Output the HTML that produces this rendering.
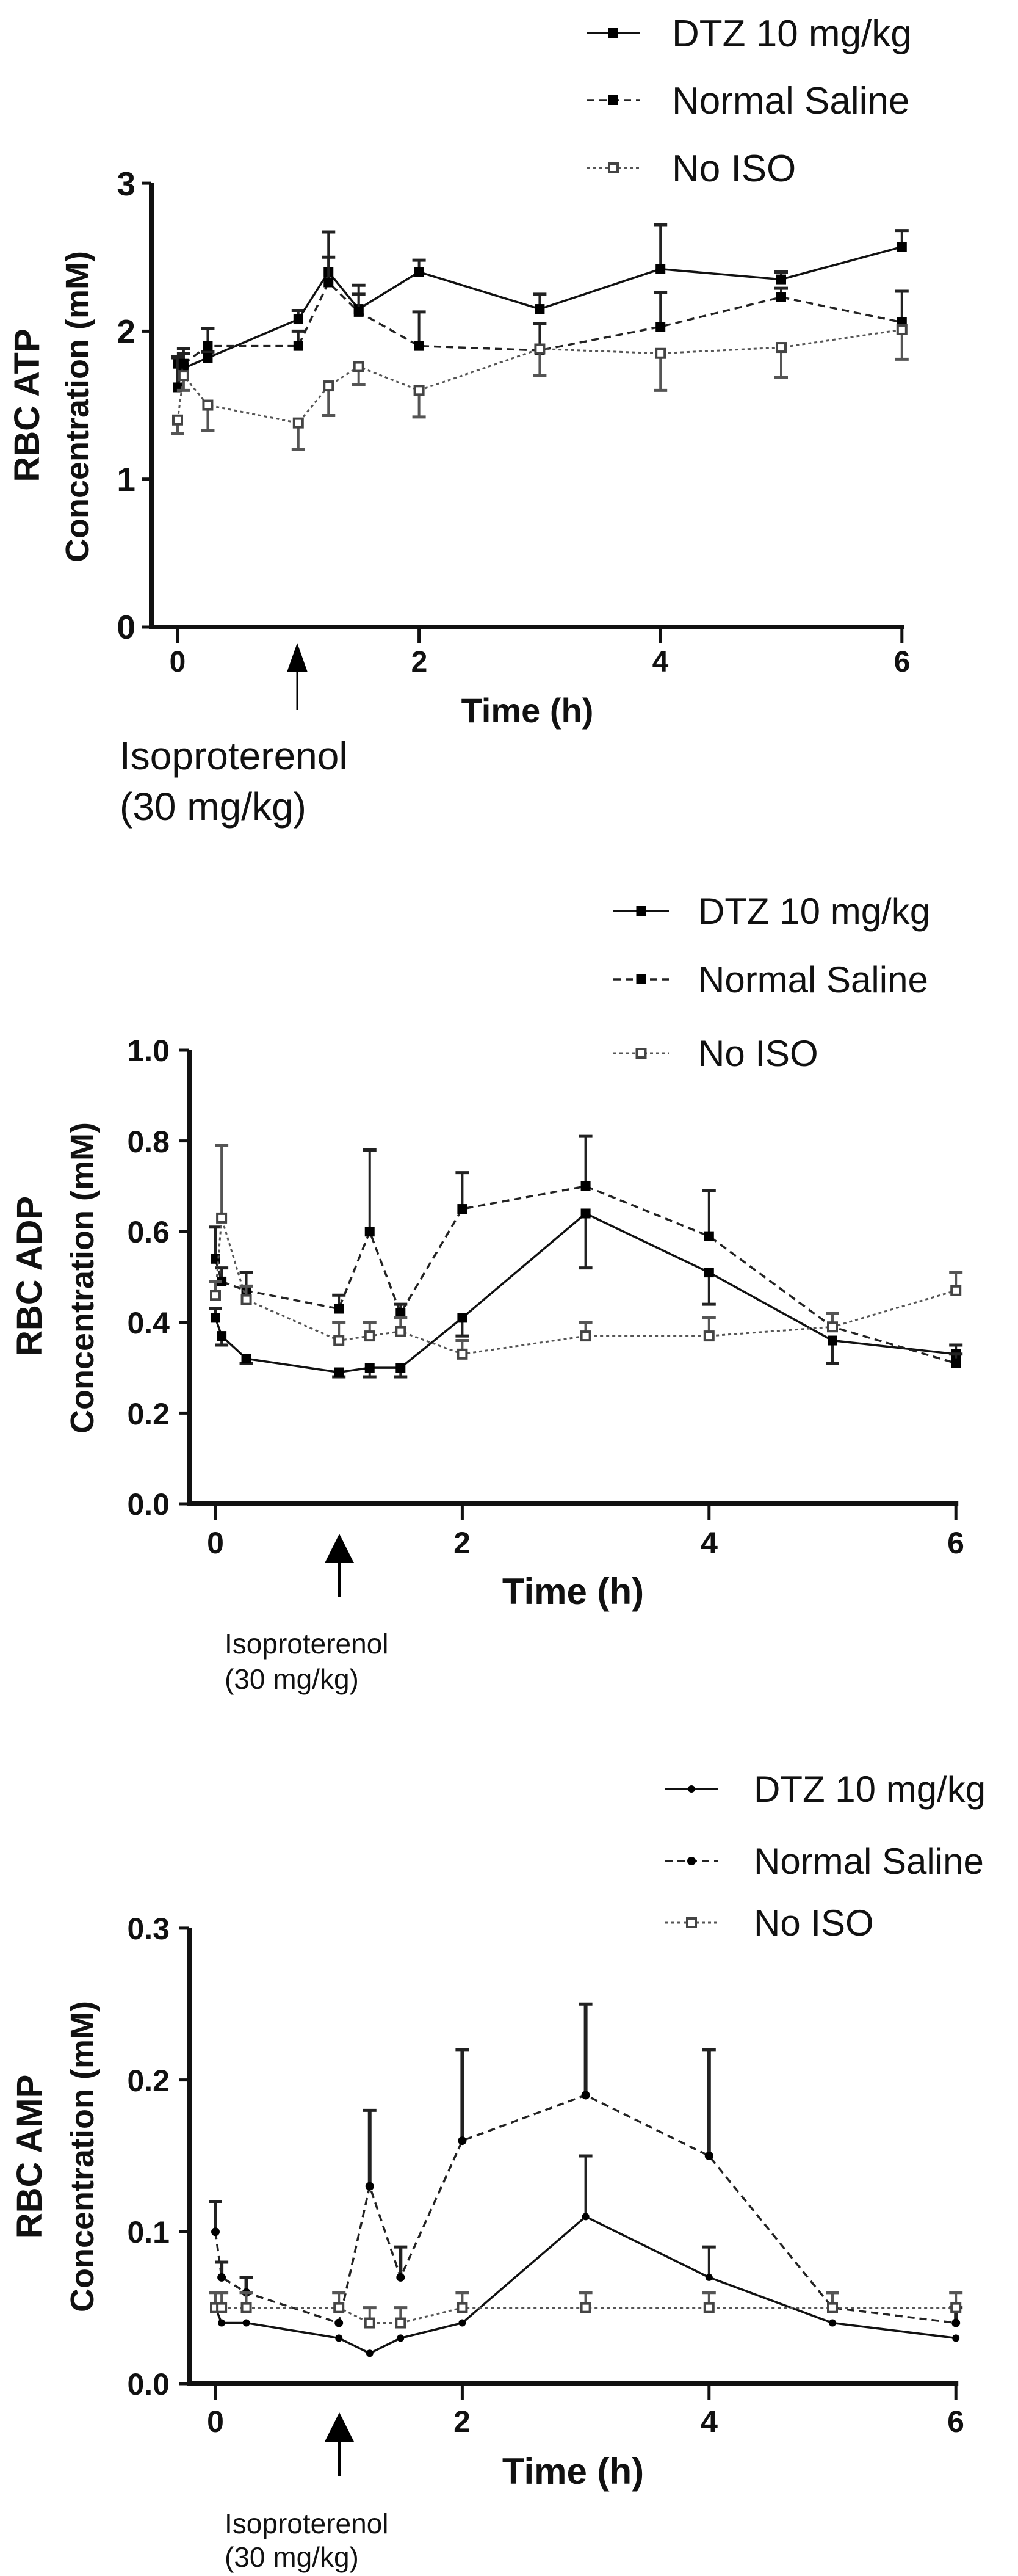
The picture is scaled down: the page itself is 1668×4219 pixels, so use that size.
<!DOCTYPE html>
<html><head><meta charset="utf-8"><style>
html,body{margin:0;padding:0;background:#fff;}
svg{display:block;}
text{font-family:"Liberation Sans",Arial,sans-serif;fill:#111;}
.b{font-weight:bold;}
</style></head><body>
<svg id="s" width="1668" height="4219" viewBox="0 0 1668 4219" xmlns="http://www.w3.org/2000/svg">
<rect width="1668" height="4219" fill="#fff"/>
<!-- Chart 1 static text -->
<text x="1101" y="76" font-size="62">DTZ 10 mg/kg</text>
<text x="1101" y="186" font-size="62">Normal Saline</text>
<text x="1101" y="297" font-size="62">No ISO</text>
<text class="b" font-size="58" text-anchor="middle" transform="translate(64,664) rotate(-90)">RBC ATP</text>
<text class="b" font-size="54" text-anchor="middle" transform="translate(145,666) rotate(-90)">Concentration (mM)</text>
<text class="b" font-size="55" x="222" y="320" text-anchor="end">3</text>
<text class="b" font-size="55" x="222" y="562" text-anchor="end">2</text>
<text class="b" font-size="55" x="222" y="804" text-anchor="end">1</text>
<text class="b" font-size="55" x="222" y="1046" text-anchor="end">0</text>
<text class="b" font-size="48" x="291" y="1100" text-anchor="middle">0</text>
<text class="b" font-size="48" x="687" y="1100" text-anchor="middle">2</text>
<text class="b" font-size="48" x="1082" y="1100" text-anchor="middle">4</text>
<text class="b" font-size="48" x="1478" y="1100" text-anchor="middle">6</text>
<text class="b" font-size="56" x="864" y="1183" text-anchor="middle">Time (h)</text>
<text font-size="64" x="196" y="1260">Isoproterenol</text>
<text font-size="64" x="196" y="1343">(30 mg/kg)</text>
<!-- Chart 2 static text -->
<text x="1144" y="1513" font-size="60">DTZ 10 mg/kg</text>
<text x="1144" y="1625" font-size="60">Normal Saline</text>
<text x="1144" y="1746" font-size="60">No ISO</text>
<text class="b" font-size="58" text-anchor="middle" transform="translate(68,2090) rotate(-90)">RBC ADP</text>
<text class="b" font-size="54" text-anchor="middle" transform="translate(153,2093) rotate(-90)">Concentration (mM)</text>
<text class="b" font-size="50" x="278" y="1738" text-anchor="end">1.0</text>
<text class="b" font-size="50" x="278" y="1887" text-anchor="end">0.8</text>
<text class="b" font-size="50" x="278" y="2035" text-anchor="end">0.6</text>
<text class="b" font-size="50" x="278" y="2184" text-anchor="end">0.4</text>
<text class="b" font-size="50" x="278" y="2333" text-anchor="end">0.2</text>
<text class="b" font-size="50" x="278" y="2481" text-anchor="end">0.0</text>
<text class="b" font-size="50" x="353" y="2544" text-anchor="middle">0</text>
<text class="b" font-size="50" x="757" y="2544" text-anchor="middle">2</text>
<text class="b" font-size="50" x="1162" y="2544" text-anchor="middle">4</text>
<text class="b" font-size="50" x="1566" y="2544" text-anchor="middle">6</text>
<text class="b" font-size="60" x="939" y="2627" text-anchor="middle">Time (h)</text>
<text font-size="46" x="368" y="2708" fill="#333">Isoproterenol</text>
<text font-size="46" x="368" y="2766" fill="#333">(30 mg/kg)</text>
<!-- Chart 3 static text -->
<text x="1235" y="2951" font-size="60">DTZ 10 mg/kg</text>
<text x="1235" y="3069" font-size="60">Normal Saline</text>
<text x="1235" y="3170" font-size="60">No ISO</text>
<text class="b" font-size="58" text-anchor="middle" transform="translate(68,3532) rotate(-90)">RBC AMP</text>
<text class="b" font-size="54" text-anchor="middle" transform="translate(153,3532) rotate(-90)">Concentration (mM)</text>
<text class="b" font-size="50" x="278" y="3176" text-anchor="end">0.3</text>
<text class="b" font-size="50" x="278" y="3425" text-anchor="end">0.2</text>
<text class="b" font-size="50" x="278" y="3673" text-anchor="end">0.1</text>
<text class="b" font-size="50" x="278" y="3922" text-anchor="end">0.0</text>
<text class="b" font-size="50" x="353" y="3983" text-anchor="middle">0</text>
<text class="b" font-size="50" x="757" y="3983" text-anchor="middle">2</text>
<text class="b" font-size="50" x="1162" y="3983" text-anchor="middle">4</text>
<text class="b" font-size="50" x="1566" y="3983" text-anchor="middle">6</text>
<text class="b" font-size="60" x="939" y="4068" text-anchor="middle">Time (h)</text>
<text font-size="46" x="368" y="4149" fill="#333">Isoproterenol</text>
<text font-size="46" x="368" y="4204" fill="#333">(30 mg/kg)</text>
<g id="g"></g>
</svg>
<script>
var NS="http://www.w3.org/2000/svg",G=document.getElementById('g');
function el(n,a){var e=document.createElementNS(NS,n);for(var k in a)e.setAttribute(k,a[k]);G.appendChild(e);return e;}
var T=[0,0.05,0.25,1,1.25,1.5,2,3,4,5,6];
var charts=[
{ax:248,x0:291,xs:197.8,y0:1027,ys:242.3,ymax:3,ticks:[0,1,2,3],top:300,arrow:[487,1053,1163,3],
 leg:{x1:962,x2:1048,ys:[54,164,275]},nsMarker:'sq',
 s:[
 {v:[1.78,1.75,1.82,2.08,2.4,2.15,2.4,2.15,2.42,2.35,2.57],e:[0.05,0.1,0.04,0.06,0.27,0.1,0.08,0.1,0.3,0.05,0.11]},
 {v:[1.62,1.78,1.9,1.9,2.33,2.13,1.9,1.87,2.03,2.23,2.06],e:[0.2,0.1,0.12,0.1,0.17,0.18,0.23,0.18,0.23,0.06,0.21]},
 {v:[1.4,1.7,1.5,1.38,1.63,1.76,1.6,1.88,1.85,1.89,2.01],e:[-0.09,-0.1,-0.17,-0.18,-0.2,-0.12,-0.18,-0.18,-0.25,-0.2,-0.2]}]},
{ax:310,x0:353,xs:202.2,y0:2463,ys:743,ymax:1,ticks:[0,0.2,0.4,0.6,0.8,1.0],top:1720,arrow:[556,2512,2615,6],
 leg:{x1:1005,x2:1096,ys:[1492,1604,1725]},nsMarker:'sq',
 s:[
 {v:[0.41,0.37,0.32,0.29,0.3,0.3,0.41,0.64,0.51,0.36,0.33],e:[0.02,-0.02,-0.01,-0.01,-0.02,-0.02,-0.04,-0.12,-0.07,-0.05,0.02]},
 {v:[0.54,0.49,0.47,0.43,0.6,0.42,0.65,0.7,0.59,0.39,0.31],e:[0.07,0.03,0.04,0.03,0.18,0.02,0.08,0.11,0.1,0.03,0.02]},
 {v:[0.46,0.63,0.45,0.36,0.37,0.38,0.33,0.37,0.37,0.39,0.47],e:[0.03,0.16,0.03,0.04,0.03,0.03,0.03,0.03,0.04,0.03,0.04]}]},
{ax:310,x0:353,xs:202.2,y0:3904,ys:2487,ymax:0.3,ticks:[0,0.1,0.2,0.3],top:3158,arrow:[556,3951,4056,6],
 leg:{x1:1090,x2:1176,ys:[2930,3048,3149]},nsMarker:'c',
 s:[
 {v:[0.05,0.04,0.04,0.03,0.02,0.03,0.04,0.11,0.07,0.04,0.03],e:[0,0,0,0,0,0,0,0.04,0.02,0,0]},
 {v:[0.1,0.07,0.06,0.04,0.13,0.07,0.16,0.19,0.15,0.05,0.04],e:[0.02,0.01,0.01,0,0.05,0.02,0.06,0.06,0.07,0.01,0.01]},
 {v:[0.05,0.05,0.05,0.05,0.04,0.04,0.05,0.05,0.05,0.05,0.05],e:[0.01,0.01,0.01,0.01,0.01,0.01,0.01,0.01,0.01,0.01,0.01]}]}
];
var styles=[{c:'#111',d:'',w:3.5},{c:'#222',d:'12,8',w:3.5},{c:'#555',d:'5,5',w:3}];
function marker(k,x,y,type,c){
 if(k==2){el('rect',{x:x-7,y:y-7,width:14,height:14,fill:'#fff',stroke:'#444','stroke-width':4});}
 else if(type=='sq'){el('rect',{x:x-8,y:y-8,width:16,height:16,fill:'#000'});}
 else el('circle',{cx:x,cy:y,r:k==0?6:7,fill:'#000'});
}
charts.forEach(function(C){
 // axes
 el('line',{x1:C.ax,y1:C.top,x2:C.ax,y2:C.y0,stroke:'#111','stroke-width':8});
 el('line',{x1:C.ax-4,y1:C.y0,x2:C.x0+6*C.xs+4,y2:C.y0,stroke:'#111','stroke-width':8});
 C.ticks.forEach(function(t){var y=C.y0-t*C.ys;el('line',{x1:C.ax-16,y1:y,x2:C.ax,y2:y,stroke:'#111','stroke-width':5});});
 [0,2,4,6].forEach(function(t){var x=C.x0+t*C.xs;el('line',{x1:x,y1:C.y0,x2:x,y2:C.y0+26,stroke:'#111','stroke-width':5});});
 // arrow
 var a=C.arrow;el('line',{x1:a[0],y1:a[1]+30,x2:a[0],y2:a[2],stroke:'#000','stroke-width':a[3]});
 var hw=a[3]>4?24:17;el('polygon',{points:(a[0]-hw)+','+(a[1]+48)+' '+a[0]+','+a[1]+' '+(a[0]+hw)+','+(a[1]+48),fill:'#000'});
 // series
 C.s.forEach(function(S,k){
  var st=styles[k],pts=[];
  S.v.forEach(function(v,i){var x=C.x0+T[i]*C.xs,y=C.y0-v*C.ys;pts.push(x+','+y);
   if(S.e[i]){var ye=C.y0-(v+S.e[i])*C.ys;el('line',{x1:x,y1:y,x2:x,y2:ye,stroke:k==2?'#555':'#222','stroke-width':k==1&&C.ymax<0.5?6:4});
    el('line',{x1:x-11,y1:ye,x2:x+11,y2:ye,stroke:k==2?'#555':'#222','stroke-width':5});}
  });
  var p={points:pts.join(' '),fill:'none',stroke:st.c,'stroke-width':st.w};if(st.d)p['stroke-dasharray']=st.d;el('polyline',p);
  S.v.forEach(function(v,i){marker(k,C.x0+T[i]*C.xs,C.y0-v*C.ys,C.nsMarker,st.c);});
  // legend
  var ly=C.leg.ys[k],lp={x1:C.leg.x1,y1:ly,x2:C.leg.x2,y2:ly,stroke:st.c,'stroke-width':st.w};if(st.d)lp['stroke-dasharray']=st.d;el('line',lp);
  marker(k,(C.leg.x1+C.leg.x2)/2,ly,C.nsMarker,st.c);
 });
});
</script>
</body></html>
